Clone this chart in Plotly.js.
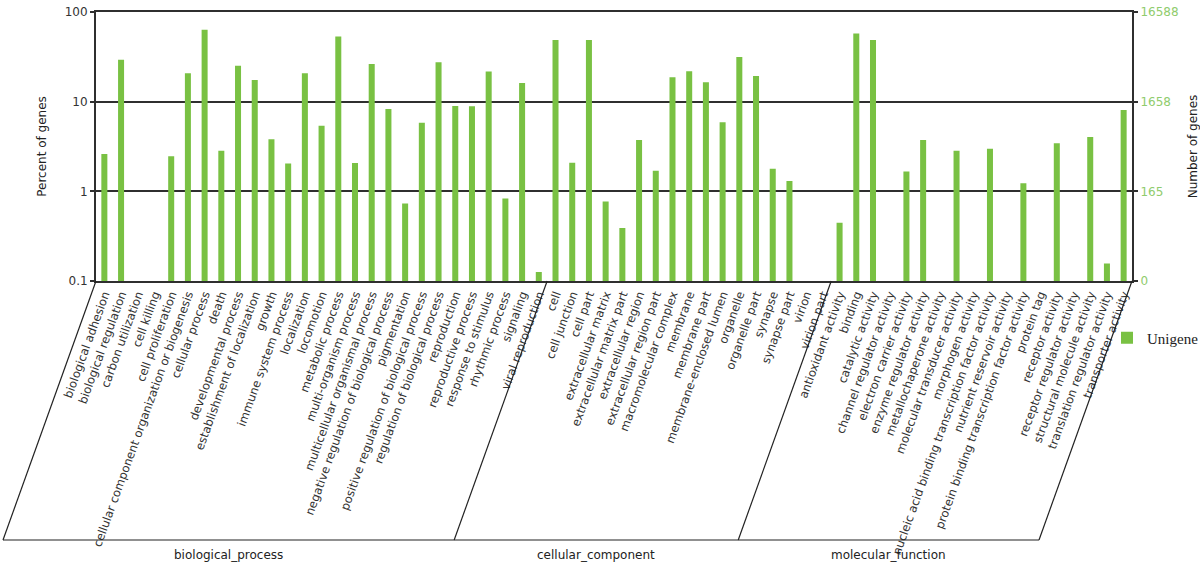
<!DOCTYPE html>
<html>
<head>
<meta charset="utf-8">
<script src="https://cdn.plot.ly/plotly-3.0.1.min.js"></script>
<style>
  html, body { margin: 0; padding: 0; background: #ffffff; }
  #chart { width: 1200px; height: 565px; }
</style>
</head>
<body>
<div id="chart"></div>
<script>
// ---- data ----
const categories = [
  "biological adhesion", "biological regulation", "carbon utilization", "cell killing",
  "cell proliferation", "cellular component organization or biogenesis", "cellular process",
  "death", "developmental process", "establishment of localization", "growth",
  "immune system process", "localization", "locomotion", "metabolic process",
  "multi-organism process", "multicellular organismal process",
  "negative regulation of biological process", "pigmentation",
  "positive regulation of biological process", "regulation of biological process",
  "reproduction", "reproductive process", "response to stimulus", "rhythmic process",
  "signaling", "viral reproduction",
  "cell", "cell junction", "cell part", "extracellular matrix", "extracellular matrix part",
  "extracellular region", "extracellular region part", "macromolecular complex", "membrane",
  "membrane part", "membrane-enclosed lumen", "organelle", "organelle part", "synapse",
  "synapse part", "virion", "virion part",
  "antioxidant activity", "binding", "catalytic activity", "channel regulator activity",
  "electron carrier activity", "enzyme regulator activity", "metallochaperone activity",
  "molecular transducer activity", "morphogen activity",
  "nucleic acid binding transcription factor activity", "nutrient reservoir activity",
  "protein binding transcription factor activity", "protein tag", "receptor activity",
  "receptor regulator activity", "structural molecule activity",
  "translation regulator activity", "transporter activity"
];

const percentGenes = [
  2.6, 29.3, null, null, 2.46, 20.8, 63.4, 2.84, 25.2, 17.4, 3.8, 2.05, 20.7, 5.39, 53.4,
  2.07, 26.3, 8.27, 0.73, 5.82, 27.6, 8.93, 8.9, 21.7, 0.83, 16.1, 0.126,
  48.6, 2.08, 48.6, 0.77, 0.39, 3.73, 1.70, 18.7, 21.9, 16.5, 5.88, 31.4, 19.3, 1.79, 1.30,
  null, null,
  0.447, 57.7, 48.6, null, 1.66, 3.73, null, 2.84, null, 2.99, null, 1.23, null, 3.43,
  null, 4.03, 0.157, 8.06
];

const groupNames = ["biological_process", "cellular_component", "molecular_function"];
const groupSizes = [27, 17, 18];

const leftTickVals = [0.1, 1, 10, 100];
const leftTickText = ["0.1", "1", "10", "100"];
const rightTickText = ["0", "165", "1658", "16588"];

const seriesName = "Unigene";

// ---- layout geometry ----
const W = 1200, H = 565;
const M = { l: 96, r: 68, t: 12, b: 284, autoexpand: false };
const plotW = W - M.l - M.r;
const plotH = H - M.t - M.b;
const nCat = categories.length;
const slantPx = 93;          // horizontal shift of bracket lines
const bracketBottomPx = 259; // depth of bracket below the x axis
const sx = slantPx / plotW;
const yb = -bracketBottomPx / plotH;

const lineColor = "#2f2f2f";
const barColor = "#79c143";
const rightColor = "#8fcc6c";

const shapes = [];
let bounds = [0];
groupSizes.forEach((s, i) => bounds.push(bounds[i] + s));
bounds.forEach(b => {
  const xt = b / nCat;
  shapes.push({ type: "line", xref: "paper", yref: "paper",
    x0: xt, y0: 0, x1: xt - sx, y1: yb, line: { color: "#222", width: 1.2 } });
});
shapes.push({ type: "line", xref: "paper", yref: "paper",
  x0: -sx, y0: yb, x1: 1 - sx, y1: yb, line: { color: "#222", width: 1.2 } });

const annotations = groupNames.map((g, i) => ({
  text: g, xref: "paper", yref: "paper",
  x: ((bounds[i] + bounds[i + 1]) / 2) / nCat - sx, y: yb,
  xanchor: "center", yanchor: "top", yshift: -6, showarrow: false,
  font: { family: "DejaVu Sans", size: 12, color: "#222" }
}));

const trace = {
  type: "bar",
  x: categories,
  y: percentGenes,
  name: seriesName,
  marker: { color: barColor, line: { width: 0 } },
  hoverinfo: "x+y"
};

// carrier trace so the right-hand "Number of genes" axis is drawn
const rightAxisTrace = {
  type: "scatter",
  mode: "markers",
  x: categories,
  y: percentGenes,
  yaxis: "y2",
  marker: { opacity: 0, size: 1 },
  showlegend: false,
  hoverinfo: "skip"
};

const layout = {
  width: W, height: H,
  margin: M,
  paper_bgcolor: "#ffffff",
  plot_bgcolor: "#ffffff",
  font: { family: "DejaVu Sans", size: 12, color: "#333" },
  bargap: 0.64,
  showlegend: true,
  legend: {
    x: (1107 - M.l) / plotW, y: (M.t + plotH - 338) / plotH,
    xanchor: "left", yanchor: "middle",
    font: { family: "Liberation Serif", size: 15, color: "#222" },
    bgcolor: "rgba(0,0,0,0)"
  },
  xaxis: {
    type: "category",
    tickangle: -70,
    tickfont: { family: "DejaVu Sans", size: 11.7, color: "#333" },
    showline: true, mirror: true, linecolor: lineColor, linewidth: 2,
    ticks: "", showgrid: false, zeroline: false,
    range: [-0.5, nCat - 0.5],
    automargin: false
  },
  yaxis: {
    type: "log",
    range: [-1, 2],
    tickvals: leftTickVals, ticktext: leftTickText,
    tickfont: { family: "DejaVu Sans", size: 12, color: "#333" },
    ticks: "outside", ticklen: 4, tickcolor: lineColor, tickwidth: 2,
    showline: true, linecolor: lineColor, linewidth: 2,
    showgrid: true, gridcolor: lineColor, gridwidth: 2,
    zeroline: false,
    title: { text: "Percent of genes", standoff: 15,
             font: { family: "DejaVu Sans", size: 12, color: "#222" } },
    automargin: false
  },
  yaxis2: {
    type: "log",
    overlaying: "y", side: "right", anchor: "x",
    range: [-1, 2],
    tickvals: leftTickVals, ticktext: rightTickText,
    tickfont: { family: "DejaVu Sans", size: 12, color: rightColor },
    ticks: "outside", ticklen: 4, tickcolor: lineColor, tickwidth: 2,
    showline: true, linecolor: lineColor, linewidth: 2,
    showgrid: false, zeroline: false,
    title: { text: "Number of genes", standoff: 12,
             font: { family: "DejaVu Sans", size: 12, color: "#222" } },
    automargin: false
  },
  shapes: shapes,
  annotations: annotations
};

Plotly.newPlot("chart", [trace, rightAxisTrace], layout, { staticPlot: true, displayModeBar: false });
</script>
</body>
</html>
